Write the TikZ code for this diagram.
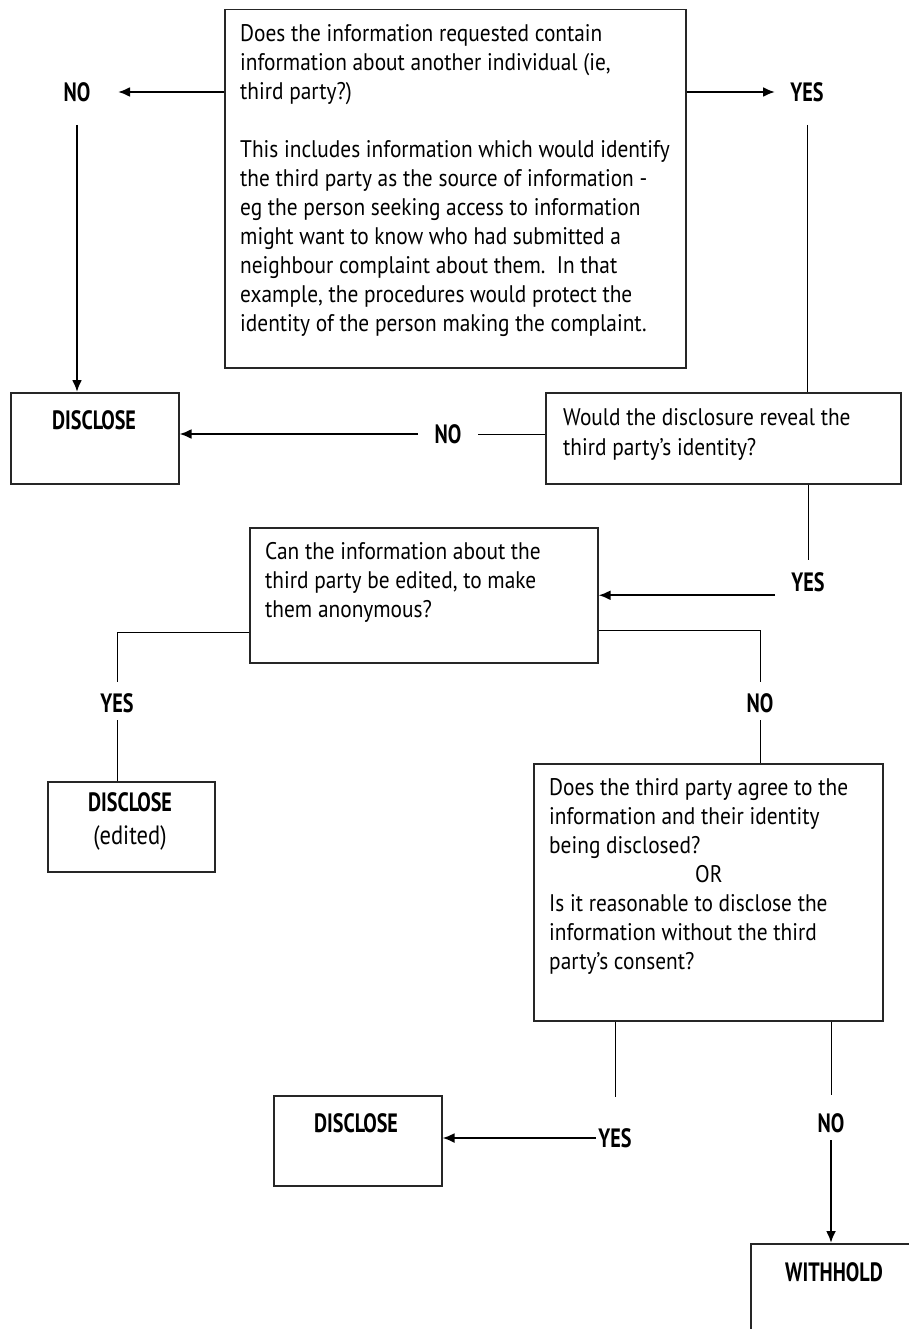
\documentclass[tikz,border=0pt]{standalone}
\usepackage{fontspec}
\setmainfont{PT Sans}
\usetikzlibrary{arrows.meta}
\newcommand{\bodytext}[1]{\scalebox{0.89}[1]{\begin{tabular}[t]{@{}l@{}}#1\end{tabular}}}
\newcommand{\lbltext}[1]{\scalebox{0.76}[1]{#1}}
\begin{document}
\begin{tikzpicture}[x=1pt,y=-1pt,
 box/.style={draw=black!85, line width=1.5pt, anchor=north west, inner sep=0pt},
 txt/.style={anchor=north west, inner sep=0pt, font=\fontsize{24}{29}\selectfont},
 lbl/.style={inner sep=0pt, font=\fontsize{26.5}{30}\selectfont\bfseries},
 arr/.style={line width=2.2pt, -{Latex[length=12pt,width=10pt]}},
 ln/.style={line width=0.9pt}]
\useasboundingbox (0,0) rectangle (908,1329);
% boxes
\node[box, minimum width=461pt, minimum height=358pt] (q1) at (224,9) {};
\node[box, minimum width=168pt, minimum height=91pt] (d1) at (10,392) {};
\node[box, minimum width=355pt, minimum height=91pt] (q2) at (545,392) {};
\node[box, minimum width=348pt, minimum height=135pt] (q3) at (249,527) {};
\node[box, minimum width=167pt, minimum height=90pt] (d2) at (47,781) {};
\node[box, minimum width=349pt, minimum height=257pt] (q4) at (533,763) {};
\node[box, minimum width=168pt, minimum height=90pt] (d3) at (273,1095) {};
\node[box, minimum width=220pt, minimum height=120pt] (wh) at (750,1243) {};
% texts
\node[txt] (t1) at (240,20.7) {\bodytext{Does the information requested contain\\information about another individual (ie,\\third party?)\\ \\This includes information which would identify\\the third party as the source of information -\\eg the person seeking access to information\\might want to know who had submitted a\\neighbour complaint about them.\ \ In that\\example, the procedures would protect the\\identity of the person making the complaint.}};
\node[txt] (t2) at (563,404.7) {\bodytext{Would the disclosure reveal the\\[1pt]third party’s identity?}};
\node[txt] (t3) at (265,538.7) {\bodytext{Can the information about the\\third party be edited, to make\\them anonymous?}};
\node[txt] (t4) at (549,774.7) {\bodytext{Does the third party agree to the\\information and their identity\\being disclosed?\\\hspace*{164pt}OR\\Is it reasonable to disclose the\\information without the third\\party’s consent?}};
\node[lbl] (d1t) at (94,420) {\lbltext{DISCLOSE}};
\node[lbl] (d2t) at (130,822) {\scalebox{0.76}[1]{\begin{tabular}{@{}c@{}}DISCLOSE\\[3pt]\mdseries\scalebox{1.12}[1]{(edited)}\end{tabular}}};
\node[lbl] (d3t) at (356,1123) {\lbltext{DISCLOSE}};
\node[lbl] (wht) at (834,1272) {\lbltext{WITHHOLD}};
% labels
\node[lbl] (no1) at (77,92) {\lbltext{NO}};
\node[lbl] (yes1) at (807,92) {\lbltext{YES}};
\node[lbl] (no2) at (448,434) {\lbltext{NO}};
\node[lbl] (yes2) at (808,582) {\lbltext{YES}};
\node[lbl] (yes3) at (117,703) {\lbltext{YES}};
\node[lbl] (no3) at (760,703) {\lbltext{NO}};
\node[lbl] (yes4) at (615,1138) {\lbltext{YES}};
\node[lbl] (no4) at (831,1123) {\lbltext{NO}};
% connectors
\draw[arr, shorten >=41pt] (q1.west|-no1) -- (no1.center);
\draw[arr, shorten >=32pt] (q1.east|-yes1) -- (yes1.center);
\draw[arr, shorten <=33pt] (no1.center) -- (no1.center|-d1.north);
\draw[ln, shorten <=33pt] (yes1.center) -- (yes1.center|-q2.north);
\draw[ln, shorten >=30pt] (q2.west|-no2) -- (no2.center);
\draw[arr, shorten <=30pt] (no2.center) -- (d1.east|-no2);
\draw[ln, shorten >=22pt] (yes2.center|-q2.south) -- (yes2.center);
\draw[arr, shorten <=33pt] (yes2.center|-q3.east) -- (q3.east);
\draw[ln, shorten >=21pt] ([yshift=31pt]q3.south west) -| (yes3.center);
\draw[ln, shorten <=17pt] (yes3.center) -- (yes3.center|-d2.north);
\draw[ln, shorten >=21pt] ([yshift=33pt]q3.south east) -| (no3.center);
\draw[ln, shorten <=17pt] (no3.center) -- (no3.center|-q4.north);
\draw[ln, shorten >=41pt] (yes4.center|-q4.south) -- (yes4.center);
\draw[arr, shorten <=19pt] (yes4.center) -- (d3.east|-yes4.center);
\draw[ln, shorten >=28pt] (no4.center|-q4.south) -- (no4.center);
\draw[arr, shorten <=17pt] (no4.center) -- (no4.center|-wh.north);
\end{tikzpicture}
\end{document}
